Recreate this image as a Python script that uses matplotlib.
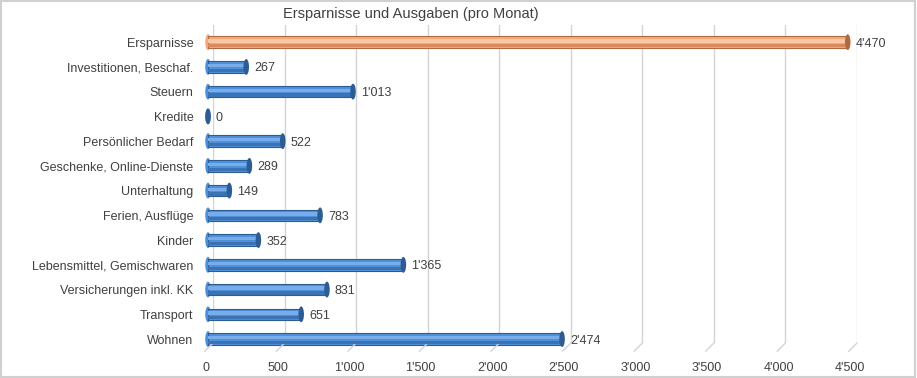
import numpy as np
import matplotlib
matplotlib.use("Agg")
import matplotlib.pyplot as plt
import matplotlib.transforms as mtransforms
from matplotlib.path import Path
from matplotlib.patches import Rectangle

categories = ["Wohnen", "Transport", "Versicherungen inkl. KK",
              "Lebensmittel, Gemischwaren", "Kinder", "Ferien, Ausflüge",
              "Unterhaltung", "Geschenke, Online-Dienste", "Persönlicher Bedarf",
              "Kredite", "Steuern", "Investitionen, Beschaf.", "Ersparnisse"]
values = [2474, 651, 831, 1365, 352, 783, 149, 289, 522, 0, 1013, 267, 4470]
is_savings = [False] * 12 + [True]
x_ticks = [0, 500, 1000, 1500, 2000, 2500, 3000, 3500, 4000, 4500]


def swiss(v):
    return f"{v:,.0f}".replace(",", "'")


plt.rcParams['font.family'] = ['Liberation Sans', 'DejaVu Sans']
text_col = '#404040'

fig = plt.figure(figsize=(9.17, 3.78), dpi=100)
ax = fig.add_axes([0.2323, 0.0926, 0.7023, 0.841])

y = np.arange(len(categories))
face = ['#f5aa7c' if s else '#4f90da' for s in is_savings]
edge = ['#b06a42' if s else '#2c5c92' for s in is_savings]
light = ['#fac6a4' if s else '#78aceb' for s in is_savings]
dark = ['#d98a5c' if s else '#3a72b4' for s in is_savings]

# perspective shift of the bars (front face sits left of the grid)
shift = mtransforms.ScaledTranslation(-5 / 100, 0, fig.dpi_scale_trans)
tr = ax.transData + shift

h = 0.46
layers = [
    ax.barh(y, values, height=h, color=face, edgecolor=edge, linewidth=0.8, zorder=3),
    ax.barh(y + h * 0.12, values, height=h * 0.3, color=light, linewidth=0, zorder=4),
    ax.barh(y - h * 0.3, values, height=h * 0.28, color=dark, linewidth=0, zorder=4),
]
for bars in layers:
    for p in bars:
        p.set_transform(tr)
        p.set_clip_on(False)

# rounded end caps
cap = Path(Path.unit_circle().vertices * [0.35, 1.0], Path.unit_circle().codes)
sc2 = ax.scatter([0] * len(values), y, marker=cap, s=130, c=face, zorder=2,
                 linewidths=0, clip_on=False)
sc2.set_offset_transform(tr)
sc = ax.scatter(values, y, marker=cap, s=130, c=edge, zorder=5,
                linewidths=0, clip_on=False)
sc.set_offset_transform(tr)

for yi, v in zip(y, values):
    ax.annotate(swiss(v), (v, yi), xytext=(2, 0), textcoords='offset points',
                va='center_baseline', ha='left', fontsize=9, color=text_col)

ax.set_xlim(0, 4500)
ax.set_ylim(-0.16, 12.69)
ax.set_xticks(x_ticks)
ax.set_xticklabels([swiss(t) for t in x_ticks])
ax.set_yticks(y)
ax.set_yticklabels(categories)
ax.tick_params(axis='both', length=0, labelsize=9, labelcolor=text_col)
ax.tick_params(axis='y', pad=14)
ax.tick_params(axis='x', pad=14)
offset = mtransforms.ScaledTranslation(-7 / 100, 0, fig.dpi_scale_trans)
for lbl in ax.get_xticklabels():
    lbl.set_transform(lbl.get_transform() + offset)

ax.grid(axis='x', color='#d4d4d4', linewidth=1, zorder=0)
for s in ax.spines.values():
    s.set_visible(False)

# perspective stubs at the foot of the gridlines
for t in x_ticks:
    ax.annotate('', xy=(t, 0), xycoords=('data', 'axes fraction'),
                xytext=(-6, -6), textcoords='offset points',
                arrowprops=dict(arrowstyle='-', color='#d4d4d4', lw=1,
                                shrinkA=0, shrinkB=0))

fig.text(0.448, 0.963, 'Ersparnisse und Ausgaben (pro Monat)', ha='center',
         va='center', fontsize=10.5, color=text_col)
fig.patches.append(Rectangle((0.001, 0.002), 0.997, 0.995, transform=fig.transFigure,
                             fill=False, edgecolor='#d0d0d0', linewidth=1.5))

fig.savefig('out.png', dpi=100)
